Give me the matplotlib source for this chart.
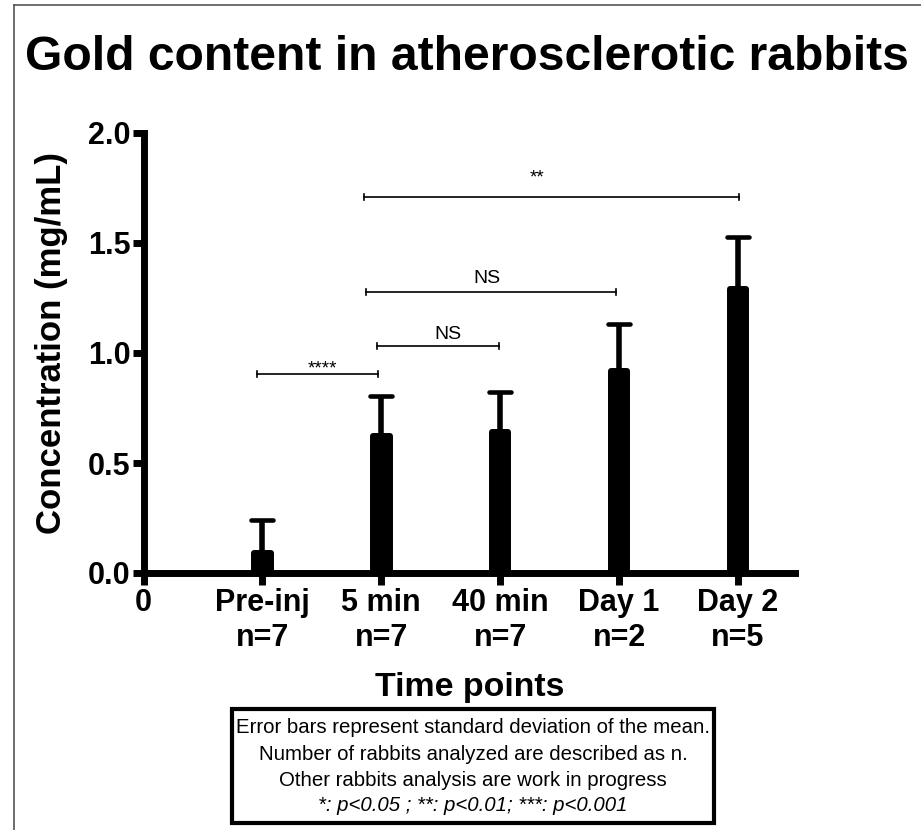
import matplotlib
matplotlib.use('Agg')
import matplotlib.pyplot as plt
import numpy as np
from matplotlib.patches import Rectangle
from matplotlib.lines import Line2D
from matplotlib.markers import MarkerStyle

plt.rcParams['font.family'] = ['Liberation Sans', 'DejaVu Sans']

# ---- data ----
categories = ['Pre-inj', '5 min', '40 min', 'Day 1', 'Day 2']
n_rabbits = [7, 7, 7, 2, 5]
means = [0.09, 0.622, 0.641, 0.918, 1.291]
sds = [0.15, 0.183, 0.182, 0.214, 0.236]
y_ticks = [0.0, 0.5, 1.0, 1.5, 2.0]

# significance brackets (start category pos, end pos, height, label)
sig_start = [0.955, 1.965, 1.873, 1.856]
sig_end = [1.974, 2.992, 3.977, 5.013]
sig_height = [0.905, 1.032, 1.277, 1.709]
sig_labels = ['****', 'NS', 'NS', '**']
sig_label_x = [1.503, 2.563, 2.891, 3.312]
sig_label_y = [0.905, 1.064, 1.318, 1.773]

title = 'Gold content in atherosclerotic rabbits'
y_label = 'Concentration (mg/mL)'
x_label = 'Time points'
note_lines = ['Error bars represent standard deviation of the mean.',
              'Number of rabbits analyzed are described as n.',
              'Other rabbits analysis are work in progress']
note_italic = '*: p<0.05 ; **: p<0.01; ***: p<0.001'

W, H = 921, 830
fig = plt.figure(figsize=(W / 100, H / 100), dpi=100)
fig.patch.set_facecolor('white')

ax = fig.add_axes([143.5 / W, 1 - 573 / H, 651.5 / W, 440 / H])
x = np.arange(1, len(categories) + 1)

eb = ax.errorbar(x, means, yerr=[np.zeros(len(sds)), sds], fmt='none', ecolor='black',
                 elinewidth=4, capsize=8, capthick=3.3, zorder=2, clip_on=False)
caplines = eb[1]
for cl in caplines:
    yd = np.asarray(cl.get_ydata(), dtype=float)
    if np.allclose(yd, means):
        cl.set_visible(False)
    else:
        cl.set_marker(MarkerStyle('_', capstyle='round'))

ax.bar(x, means, width=0.14, color='black', edgecolor='black', linewidth=4.3,
       joinstyle='round', zorder=3, clip_on=False)

for x1, x2, yy, lab, lx, ly in zip(sig_start, sig_end, sig_height, sig_labels, sig_label_x, sig_label_y):
    ax.plot([x1, x2], [yy, yy], color='black', lw=1.2, clip_on=False, zorder=4)
    ax.plot([x1, x1], [yy - 0.012, yy + 0.012], color='black', lw=1.2, clip_on=False, zorder=4)
    ax.plot([x2, x2], [yy - 0.012, yy + 0.012], color='black', lw=1.2, clip_on=False, zorder=4)
    fs = 14 if lab == 'NS' else 13.5
    ax.text(lx, ly, lab, ha='center', va='baseline', fontsize=fs, color='black')

ax.set_xlim(0, 5.48)
ax.set_ylim(0, 2.0)
ax.set_xticks([0] + list(x))
ax.set_xticklabels(['0'] + [f'{c}\nn={n}' for c, n in zip(categories, n_rabbits)],
                   fontsize=22, fontweight='bold', linespacing=1.2)
ax.set_yticks(y_ticks)
ax.set_yticklabels([f'{v:.1f}' for v in y_ticks], fontsize=22, fontweight='bold')
ax.tick_params(axis='x', width=5, length=8.5, pad=2.5, direction='out')
ax.tick_params(axis='y', width=5, length=8, pad=1.5, direction='out')

for s in ['top', 'right']:
    ax.spines[s].set_visible(False)
for s in ['left', 'bottom']:
    ax.spines[s].set_linewidth(5)
    ax.spines[s].set_capstyle('projecting')
ax.patch.set_alpha(0)

fig.text(467 / W, 1 - 70 / H, title, ha='center', va='baseline', fontsize=34.6, fontweight='bold')
fig.text(52 / W, 1 - 343 / H, y_label, rotation=90, ha='center', va='center', fontsize=25, fontweight='bold')
fig.text(470 / W, 1 - 696 / H, x_label, ha='center', va='baseline', fontsize=24.4, fontweight='bold')

fig.add_artist(Rectangle((232 / W, 1 - 823 / H), (714 - 232) / W, (823 - 709) / H,
                         transform=fig.transFigure, fill=False, lw=3, edgecolor='black'))
baselines = [733, 760, 786]
for line, b in zip(note_lines, baselines):
    fig.text(473 / W, 1 - b / H, line, ha='center', va='baseline', fontsize=14.7)
fig.text(473 / W, 1 - 811 / H, note_italic, ha='center', va='baseline', fontsize=14.7, style='italic')

fig.add_artist(Line2D([14 / W, 14 / W], [0, 1 - 5 / H], transform=fig.transFigure, color='#555555', lw=1.2))
fig.add_artist(Line2D([14 / W, 1], [1 - 5 / H, 1 - 5 / H], transform=fig.transFigure, color='#555555', lw=1.2))

fig.savefig('out.png', dpi=100, facecolor='white')
